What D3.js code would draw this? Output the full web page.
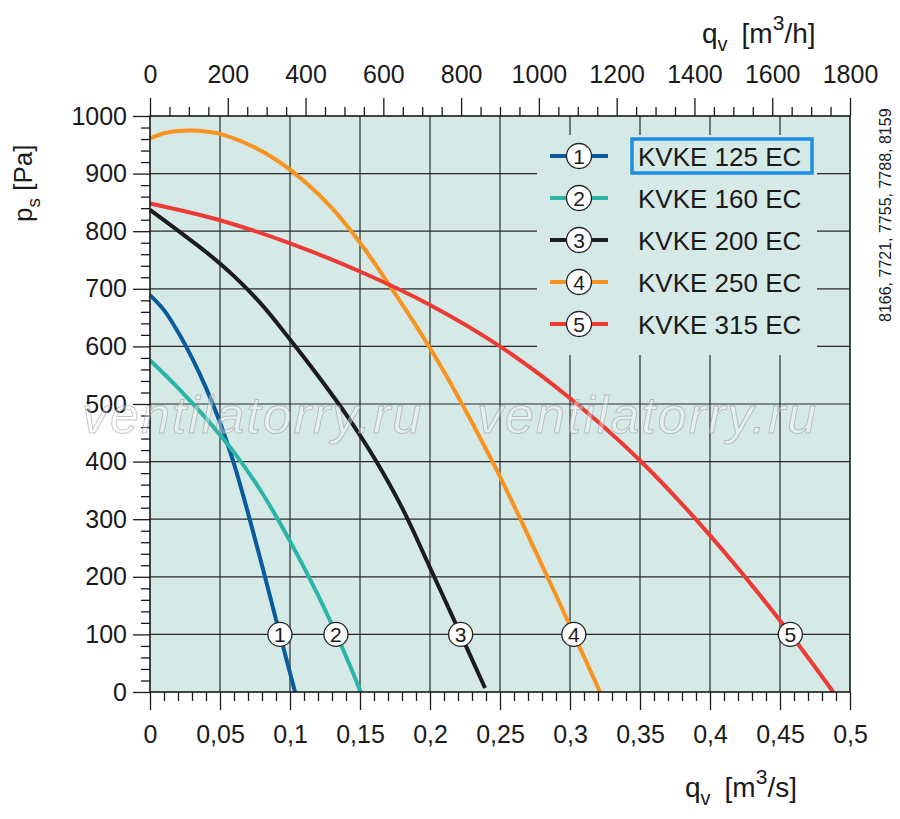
<!DOCTYPE html>
<html>
<head>
<meta charset="utf-8">
<script src="https://cdn.jsdelivr.net/npm/d3@7"></script>
<style>
    body { margin: 0; background: #fff; }
    svg { display: block; font-family: "Liberation Sans", Arial, sans-serif; }
    .axis text { font-size: 25px; fill: #1a1a1a; }
    .axis line { stroke: #1a1a1a; stroke-width: 1.3; }
    .axis path { display: none; }
    .title { font-size: 28px; fill: #1a1a1a; }
</style>
</head>
<body>
<svg id="chart" width="900" height="819"></svg>
<script>
// chart values
const models = ["KVKE 125 EC", "KVKE 160 EC", "KVKE 200 EC", "KVKE 250 EC", "KVKE 315 EC"];
const colors = ["#0b5a9e", "#2bb5a6", "#1c1c1c", "#f7931e", "#ec3b35"];

const curve1Q = [0, 0.01, 0.02, 0.03, 0.04, 0.05, 0.06, 0.07, 0.08, 0.09, 0.1036];
const curve1P = [689, 663, 625, 580, 528, 468, 396, 311, 220, 126, 0];

const curve2Q = [0, 0.02, 0.04, 0.06, 0.08, 0.1, 0.12, 0.14, 0.1505];
const curve2P = [576, 528, 475, 416, 346, 262, 168, 62, 0];

const curve3Q = [0, 0.02, 0.04, 0.06, 0.08, 0.1, 0.12, 0.14, 0.16, 0.18, 0.2, 0.22, 0.2393];
const curve3P = [837, 801, 764, 722, 672, 612, 549, 482, 407, 320, 216, 110, 7];

const curve4Q = [0, 0.01, 0.02, 0.03, 0.04, 0.05, 0.07, 0.09, 0.11, 0.13, 0.15, 0.17, 0.19, 0.21, 0.23, 0.25, 0.27, 0.29, 0.3214];
const curve4P = [961, 970, 974, 975, 973, 969, 951, 924, 887, 840, 780, 710, 636, 556, 468, 374, 272, 168, 0];

const curve5Q = [0, 0.05, 0.1, 0.15, 0.2, 0.25, 0.3, 0.35, 0.4, 0.45, 0.488];
const curve5P = [848, 819, 779, 730, 672, 600, 510, 402, 272, 124, 0];

const labelP = 100;

const xTicks = [0, 0.05, 0.1, 0.15, 0.2, 0.25, 0.3, 0.35, 0.4, 0.45, 0.5];
const xTopTicks = [0, 200, 400, 600, 800, 1000, 1200, 1400, 1600, 1800];
const yTicks = [0, 100, 200, 300, 400, 500, 600, 700, 800, 900, 1000];
const codes = "8166, 7721, 7755, 7788, 8159";
const watermark = "ventilatorry.ru";

const curves = [
    [curve1Q, curve1P],
    [curve2Q, curve2P],
    [curve3Q, curve3P],
    [curve4Q, curve4P],
    [curve5Q, curve5P]
].map(([qs, ps], i) => ({ name: models[i], color: colors[i], points: qs.map((q, j) => [q, ps[j]]) }));

const svg = d3.select("#chart");
const plot = { left: 150, right: 850, top: 116, bottom: 692 };
const background = "#d5e9e6";

const x = d3.scaleLinear().domain([0, 0.5]).range([plot.left, plot.right]);
const xTop = d3.scaleLinear().domain([0, 1800]).range([plot.left, plot.right]);
const y = d3.scaleLinear().domain([0, 1000]).range([plot.bottom, plot.top]);

const comma = d => d === 0 ? "0" : String(d).replace(".", ",");
const plain = d => String(d);

svg.append("rect")
    .attr("x", plot.left)
    .attr("y", plot.top)
    .attr("width", plot.right - plot.left)
    .attr("height", plot.bottom - plot.top)
    .style("fill", background);

// grid
const grid = svg.append("g").style("stroke", "#2a2a2a").style("stroke-width", 1.2);
grid.selectAll(".v")
    .data(xTicks.slice(1, -1))
    .join("line")
    .attr("x1", d => x(d)).attr("x2", d => x(d))
    .attr("y1", plot.top).attr("y2", plot.bottom);
grid.selectAll(".h")
    .data(yTicks.slice(1, -1))
    .join("line")
    .attr("x1", plot.left).attr("x2", plot.right)
    .attr("y1", d => y(d)).attr("y2", d => y(d));

// legend sits on a plain patch that hides the grid
const legend = svg.append("g");
legend.append("rect")
    .attr("x", 537).attr("y", 135)
    .attr("width", 280).attr("height", 220)
    .style("fill", background);

legend.append("rect")
    .attr("x", 632).attr("y", 139)
    .attr("width", 180).attr("height", 34)
    .style("fill", "none")
    .style("stroke", "#1e8fe0")
    .style("stroke-width", 3.5);

const entries = legend.selectAll(".entry")
    .data(curves)
    .join("g")
    .attr("transform", (d, i) => `translate(0,${156 + i * 42})`);

entries.append("line")
    .attr("x1", 550).attr("x2", 608)
    .style("stroke", d => d.color)
    .style("stroke-width", 4);

entries.append("circle")
    .attr("cx", 579)
    .attr("r", 12.5)
    .style("fill", "#fff")
    .style("stroke", "#222")
    .style("stroke-width", 1.3);

entries.append("text")
    .attr("x", 579)
    .attr("y", 7.5)
    .attr("text-anchor", "middle")
    .style("font-size", "21px")
    .style("fill", "#1a1a1a")
    .text((d, i) => i + 1);

entries.append("text")
    .attr("x", 638)
    .attr("y", 9.5)
    .style("font-size", "26px")
    .style("fill", "#1a1a1a")
    .text(d => d.name);

// curves
const line = d3.line()
    .x(d => x(d[0]))
    .y(d => y(d[1]))
    .curve(d3.curveCatmullRom.alpha(0.5));

svg.append("g")
    .selectAll("path")
    .data(curves)
    .join("path")
    .attr("d", d => line(d.points))
    .style("fill", "none")
    .style("stroke", d => d.color)
    .style("stroke-width", 4);

// numbered markers where each curve crosses labelP
function crossing(points, p) {
    for (let i = 1; i < points.length; i++) {
        const [q0, p0] = points[i - 1], [q1, p1] = points[i];
        if (p0 >= p && p1 <= p) return q0 + (p0 - p) / (p0 - p1) * (q1 - q0);
    }
    return points[points.length - 1][0];
}

const markers = svg.append("g")
    .selectAll("g")
    .data(curves)
    .join("g")
    .attr("transform", d => `translate(${x(crossing(d.points, labelP))},${y(labelP)})`);

markers.append("circle")
    .attr("r", 12)
    .style("fill", "#fff")
    .style("stroke", "#222")
    .style("stroke-width", 1.3);

markers.append("text")
    .attr("y", 7.5)
    .attr("text-anchor", "middle")
    .style("font-size", "21px")
    .style("fill", "#1a1a1a")
    .text((d, i) => i + 1);

// frame
svg.append("rect")
    .attr("x", plot.left).attr("y", plot.top)
    .attr("width", plot.right - plot.left).attr("height", plot.bottom - plot.top)
    .style("fill", "none")
    .style("stroke", "#1a1a1a")
    .style("stroke-width", 1.6);

// axes, major and minor
const minorX = d3.range(0, 51).map(i => i / 100).filter(v => Math.round(v * 100) % 5 !== 0);
const minorTop = d3.range(0, 37).map(i => i * 50).filter(v => v % 200 !== 0);
const minorY = d3.range(0, 51).map(i => i * 20).filter(v => v % 100 !== 0);

svg.append("g").attr("class", "axis")
    .attr("transform", `translate(0,${plot.bottom})`)
    .call(d3.axisBottom(x).tickValues(xTicks).tickSize(18).tickPadding(15).tickFormat(comma));
svg.append("g").attr("class", "axis")
    .attr("transform", `translate(0,${plot.bottom})`)
    .call(d3.axisBottom(x).tickValues(minorX).tickSize(9).tickFormat(""));

svg.append("g").attr("class", "axis")
    .attr("transform", `translate(0,${plot.top})`)
    .call(d3.axisTop(xTop).tickValues(xTopTicks).tickSize(18).tickPadding(15).tickFormat(plain));
svg.append("g").attr("class", "axis")
    .attr("transform", `translate(0,${plot.top})`)
    .call(d3.axisTop(xTop).tickValues(minorTop).tickSize(9).tickFormat(""));

svg.append("g").attr("class", "axis")
    .attr("transform", `translate(${plot.left},0)`)
    .call(d3.axisLeft(y).tickValues(yTicks).tickSize(17).tickPadding(6).tickFormat(plain));
svg.append("g").attr("class", "axis")
    .attr("transform", `translate(${plot.left},0)`)
    .call(d3.axisLeft(y).tickValues(minorY).tickSize(9).tickFormat(""));

// watermark
svg.append("g")
    .selectAll("text")
    .data([82, 477])
    .join("text")
    .attr("x", d => d)
    .attr("y", 433)
    .style("font-size", "52px")
    .style("font-style", "italic")
    .style("letter-spacing", "2px")
    .style("fill", "#ffffff")
    .style("fill-opacity", 0.35)
    .style("stroke", "#9a9a9a")
    .style("stroke-opacity", 0.6)
    .style("stroke-width", 0.9)
    .text(watermark);

// axis titles
function title(g, main, sub, unit, sup, rest) {
    g.append("tspan").text(main);
    g.append("tspan").attr("dy", 8).style("font-size", "20px").text(sub);
    g.append("tspan").attr("dy", -8).text("\u2002" + unit);
    g.append("tspan").attr("dy", -13).style("font-size", "21px").text(sup);
    g.append("tspan").attr("dy", 13).text(rest);
}

svg.append("text").attr("class", "title")
    .attr("x", 702).attr("y", 43)
    .call(title, "q", "v", "[m", "3", "/h]");

svg.append("text").attr("class", "title")
    .attr("x", 685).attr("y", 797)
    .call(title, "q", "v", "[m", "3", "/s]");

const yTitle = svg.append("text").attr("class", "title")
    .style("font-size", "26px")
    .attr("transform", "translate(32,222) rotate(-90)");
yTitle.append("tspan").text("p");
yTitle.append("tspan").attr("dy", 8).style("font-size", "19px").text("s");
yTitle.append("tspan").attr("dy", -8).text(" [Pa]");

svg.append("text")
    .attr("transform", "translate(891,322) rotate(-90)")
    .style("font-size", "16px")
    .style("fill", "#1a1a1a")
    .text(codes);
</script>
</body>
</html>
